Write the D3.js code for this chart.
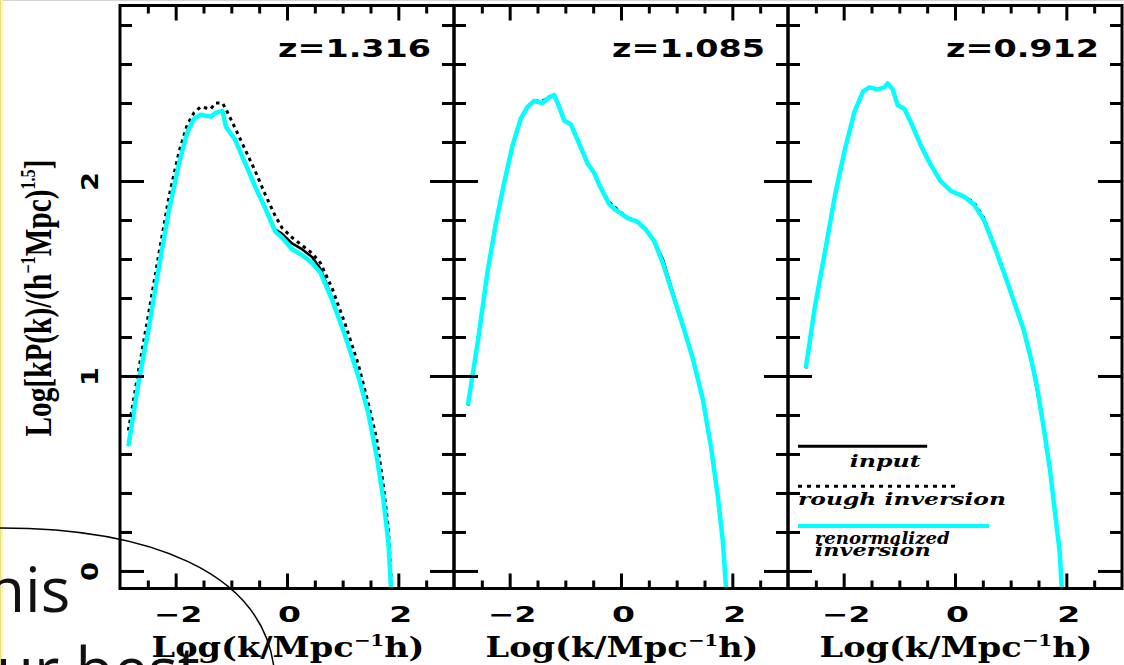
<!DOCTYPE html>
<html><head><meta charset="utf-8">
<script src="https://cdn.jsdelivr.net/npm/d3@7/dist/d3.min.js"></script>
<style>body{margin:0;background:#fff;} svg{display:block;background:#fff}</style>
</head><body>
<svg id="c" width="1124" height="665"></svg>
<script>
// ---------- data ----------
const redshifts = ["z=1.316", "z=1.085", "z=0.912"];

// panel 1 (z=1.316)
const k1 = [-2.85,-2.66,-2.48,-2.30,-2.12,-1.94,-1.79,-1.67,-1.55,-1.37,-1.28,-1.16,-1.10,-0.93,-0.75,-0.57,-0.39,-0.21,-0.09,0.09,0.27,0.45,0.60,0.81,1.04,1.28,1.46,1.61,1.73,1.82,1.87];
const renorm1 = [0.64,0.98,1.25,1.56,1.85,2.09,2.25,2.32,2.34,2.33,2.35,2.36,2.28,2.21,2.09,1.97,1.86,1.74,1.71,1.65,1.62,1.58,1.53,1.39,1.21,1.00,0.81,0.59,0.37,0.15,-0.09];
const input1  = [0.64,0.98,1.25,1.56,1.85,2.09,2.25,2.32,2.34,2.33,2.35,2.36,2.28,2.21,2.09,1.97,1.86,1.75,1.73,1.68,1.65,1.61,1.55,1.40,1.21,1.00,0.81,0.59,0.37,0.15,-0.09];
const rough1  = [0.72,1.04,1.33,1.63,1.92,2.15,2.29,2.35,2.38,2.37,2.40,2.40,2.37,2.27,2.16,2.05,1.93,1.82,1.76,1.71,1.67,1.63,1.58,1.45,1.27,1.06,0.86,0.68,0.44,0.22,-0.03];

// panel 2 (z=1.085)
const k2 = [-2.75,-2.57,-2.40,-2.25,-2.10,-1.95,-1.80,-1.68,-1.56,-1.41,-1.29,-1.20,-1.11,-1.02,-0.90,-0.75,-0.60,-0.48,-0.39,-0.21,-0.09,0.12,0.30,0.45,0.60,0.75,0.93,1.11,1.29,1.47,1.62,1.74,1.83,1.89];
const renorm2 = [0.85,1.18,1.53,1.78,1.99,2.18,2.32,2.38,2.41,2.40,2.43,2.44,2.38,2.31,2.29,2.19,2.09,2.04,1.98,1.88,1.85,1.81,1.79,1.75,1.69,1.58,1.42,1.26,1.09,0.88,0.63,0.38,0.15,-0.10];
const input2  = [0.85,1.18,1.53,1.78,1.99,2.18,2.32,2.38,2.41,2.40,2.43,2.44,2.38,2.31,2.29,2.19,2.09,2.04,1.98,1.88,1.85,1.81,1.79,1.75,1.69,1.60,1.43,1.26,1.09,0.88,0.63,0.38,0.15,-0.10];
const rough2  = [0.85,1.18,1.53,1.78,1.99,2.18,2.32,2.38,2.41,2.41,2.43,2.44,2.38,2.31,2.29,2.19,2.09,2.04,1.98,1.89,1.86,1.81,1.79,1.75,1.69,1.58,1.42,1.26,1.09,0.88,0.63,0.38,0.15,-0.10];

// panel 3 (z=0.912)
const k3 = [-2.68,-2.52,-2.34,-2.16,-1.98,-1.80,-1.65,-1.54,-1.39,-1.27,-1.21,-1.12,-1.03,-0.91,-0.79,-0.61,-0.43,-0.26,-0.08,0.16,0.34,0.52,0.70,0.88,1.05,1.23,1.38,1.47,1.59,1.71,1.80,1.88,1.92];
const renorm3 = [1.04,1.35,1.63,1.92,2.16,2.36,2.46,2.48,2.47,2.48,2.50,2.47,2.39,2.37,2.30,2.18,2.08,2.00,1.95,1.92,1.88,1.80,1.67,1.53,1.39,1.24,1.07,0.95,0.74,0.51,0.29,0.10,-0.10];
const input3  = [1.04,1.35,1.63,1.92,2.16,2.36,2.46,2.48,2.47,2.48,2.50,2.47,2.39,2.37,2.30,2.18,2.08,2.00,1.95,1.92,1.88,1.80,1.67,1.53,1.39,1.24,1.08,0.93,0.74,0.51,0.29,0.10,-0.10];
const rough3  = [1.04,1.35,1.63,1.92,2.16,2.36,2.46,2.48,2.47,2.48,2.50,2.47,2.39,2.37,2.30,2.18,2.08,2.00,1.95,1.92,1.89,1.81,1.67,1.53,1.39,1.24,1.07,0.95,0.74,0.51,0.29,0.10,-0.10];

// ticks
const xMajorTicks = [-2, 0, 2];
const xMinorTicks = [-2.5, -1.5, -1, -0.5, 0.5, 1, 1.5, 2.5];
const yMajorTicks = [0, 1, 2];
const yMinorTicks = [0.2,0.4,0.6,0.8,1.2,1.4,1.6,1.8,2.2,2.4,2.6,2.8];

const legendLabels = ["input", "rough inversion", "renormalized", "inversion"];
const overlayWords = ["his", "ur best"];

// ---------- drawing ----------
const panels = [
  {z: redshifts[0], k: k1, renorm: renorm1, input: input1, rough: rough1},
  {z: redshifts[1], k: k2, renorm: renorm2, input: input2, rough: rough2},
  {z: redshifts[2], k: k3, renorm: renorm3, input: input3, rough: rough3}
];

const svg = d3.select("#c");
const PW = 334, TOP = 5.5, BOT = 588.5, L0 = 120;
const y = d3.scaleLinear().domain([-0.09, 2.9]).range([BOT, TOP]);

svg.append("line").attr("x1",0).attr("x2",1124).attr("y1",0.5).attr("y2",0.5)
  .attr("stroke","#d4d4d4").attr("stroke-width",1);

const defs = svg.append("defs");

function styleAxis(a){
  a.select(".domain").remove();
  a.selectAll("line").attr("stroke","#000").attr("stroke-width",3);
  return a;
}

panels.forEach((p, i) => {
  const L = L0 + i * PW;
  const x = d3.scaleLinear().domain([-3, 3]).range([L, L + PW]);
  const g = svg.append("g");

  defs.append("clipPath").attr("id", "clip" + i).append("rect")
    .attr("x", L).attr("y", TOP).attr("width", PW).attr("height", BOT - TOP);
  const cg = g.append("g").attr("clip-path", `url(#clip${i})`);
  const line = ys => d3.line().x((d, j) => x(p.k[j])).y(d => y(d))(ys);

  cg.append("path").attr("d", line(p.rough)).attr("fill","none").attr("stroke","#000")
    .attr("stroke-width",3).attr("stroke-dasharray","3.5,4");
  cg.append("path").attr("d", line(p.input)).attr("fill","none").attr("stroke","#000")
    .attr("stroke-width",2.6).attr("stroke-linejoin","round");
  cg.append("path").attr("d", line(p.renorm)).attr("fill","none").attr("stroke","#00ffff")
    .attr("stroke-width",4.5).attr("stroke-linejoin","round");

  // ticks on all four sides
  styleAxis(g.append("g").attr("transform",`translate(0,${BOT})`)
    .call(d3.axisBottom(x).tickValues(xMajorTicks).tickSize(-15).tickFormat("")));
  styleAxis(g.append("g").attr("transform",`translate(0,${BOT})`)
    .call(d3.axisBottom(x).tickValues(xMinorTicks).tickSize(-8).tickFormat("")));
  styleAxis(g.append("g").attr("transform",`translate(0,${TOP})`)
    .call(d3.axisTop(x).tickValues(xMajorTicks).tickSize(-15).tickFormat("")));
  styleAxis(g.append("g").attr("transform",`translate(0,${TOP})`)
    .call(d3.axisTop(x).tickValues(xMinorTicks).tickSize(-8).tickFormat("")));
  styleAxis(g.append("g").attr("transform",`translate(${L},0)`)
    .call(d3.axisLeft(y).tickValues(yMajorTicks).tickSize(-24).tickFormat("")));
  styleAxis(g.append("g").attr("transform",`translate(${L},0)`)
    .call(d3.axisLeft(y).tickValues(yMinorTicks).tickSize(-12).tickFormat("")));
  styleAxis(g.append("g").attr("transform",`translate(${L+PW},0)`)
    .call(d3.axisRight(y).tickValues(yMajorTicks).tickSize(-24).tickFormat("")));
  styleAxis(g.append("g").attr("transform",`translate(${L+PW},0)`)
    .call(d3.axisRight(y).tickValues(yMinorTicks).tickSize(-12).tickFormat("")));

  g.append("rect").attr("x",L).attr("y",TOP).attr("width",PW).attr("height",BOT-TOP)
    .attr("fill","none").attr("stroke","#000").attr("stroke-width",3);

  // x tick labels
  const xl = g.append("g").attr("transform",`translate(0,${BOT})`)
    .call(d3.axisBottom(x).tickValues(xMajorTicks).tickSize(0).tickPadding(0)
      .tickFormat(d => d < 0 ? "\u2212" + (-d) : String(d)));
  xl.select(".domain").remove();
  xl.selectAll("text")
    .attr("x", 2).attr("y", 33).attr("dy", null)
    .attr("font-family","DejaVu Sans").attr("font-weight","bold").attr("font-size",21)
    .attr("fill","#000")
    .attr("textLength", d => d < 0 ? 48 : 23).attr("lengthAdjust","spacingAndGlyphs");

  // x axis title
  const xt = g.append("text").attr("x", L + PW/2 + 1).attr("y", 657)
    .attr("text-anchor","middle").attr("font-family","DejaVu Serif").attr("font-weight","bold")
    .attr("font-size",27).attr("fill","#000")
    .attr("textLength",273).attr("lengthAdjust","spacingAndGlyphs");
  xt.append("tspan").text("Log(k/Mpc");
  xt.append("tspan").attr("font-size",16).attr("dy",-11).text("\u22121");
  xt.append("tspan").attr("dy",11).text("h)");

  // redshift label
  g.append("text").attr("x", L + 311).attr("y", 57).attr("text-anchor","end")
    .attr("font-family","DejaVu Sans").attr("font-weight","bold").attr("font-size",25)
    .attr("fill","#000").attr("textLength",153).attr("lengthAdjust","spacingAndGlyphs")
    .text(p.z);

  if (i === 0) {
    const yl = g.append("g").attr("transform",`translate(${L},0)`)
      .call(d3.axisLeft(y).tickValues(yMajorTicks).tickSize(0).tickFormat(d3.format("d")));
    yl.select(".domain").remove();
    yl.selectAll("text")
      .attr("x", 0).attr("dy", null).attr("text-anchor","middle")
      .attr("transform","translate(-22,0) rotate(-90)")
      .attr("font-family","DejaVu Sans").attr("font-weight","bold").attr("font-size",23)
      .attr("fill","#000").attr("textLength",19).attr("lengthAdjust","spacingAndGlyphs");

    const yt = g.append("text").attr("transform","translate(51,298) rotate(-90)")
      .attr("text-anchor","middle").attr("font-family","Liberation Serif").attr("font-weight","bold")
      .attr("font-size",38).attr("fill","#000")
      .attr("textLength",277).attr("lengthAdjust","spacingAndGlyphs");
    yt.append("tspan").text("Log[kP(k)/(h");
    yt.append("tspan").attr("font-size",21).attr("dy",-16).text("\u22121");
    yt.append("tspan").attr("dy",16).text("Mpc)");
    yt.append("tspan").attr("font-size",21).attr("dy",-16).text("1.5");
    yt.append("tspan").attr("dy",16).text("]");
  }

  if (i === 2) {
    const lg = g.append("g");
    lg.append("line").attr("x1",x(-2.82)).attr("x2",x(-0.5)).attr("y1",y(0.64)).attr("y2",y(0.64))
      .attr("stroke","#000").attr("stroke-width",3);
    lg.append("line").attr("x1",x(-2.82)).attr("x2",x(0.05)).attr("y1",y(0.435)).attr("y2",y(0.435))
      .attr("stroke","#000").attr("stroke-width",3).attr("stroke-dasharray","4,5");
    lg.append("line").attr("x1",x(-2.82)).attr("x2",x(0.61)).attr("y1",y(0.23)).attr("y2",y(0.23))
      .attr("stroke","#00ffff").attr("stroke-width",4);
    const lt = (t, x0, yy, len) => lg.append("text").attr("x", x0).attr("y", yy)
      .attr("font-family","DejaVu Serif").attr("font-style","italic").attr("font-weight","bold")
      .attr("font-size",17).attr("fill","#000")
      .attr("textLength",len).attr("lengthAdjust","spacingAndGlyphs").text(t);
    lt(legendLabels[0], x(-1.89), 467, 71);
    lt(legendLabels[1], x(-2.82), 505, 208);
    lt(legendLabels[2], x(-2.52), 544, 135);
    lt(legendLabels[3], x(-2.52), 556, 116);
  }
});

// ---------- slide overlay ----------
const ov = svg.append("g");
ov.append("rect").attr("x",0).attr("y",0).attr("width",3).attr("height",665).attr("fill","#fbf4b8");
ov.append("line").attr("x1",0.5).attr("x2",0.5).attr("y1",0).attr("y2",665).attr("stroke","#e9df86").attr("stroke-width",1);
ov.append("path").attr("d","M-5,528 C150,527 262,572 274,668")
  .attr("fill","none").attr("stroke","#000").attr("stroke-width",1.5);
ov.append("text").attr("x",-13).attr("y",612).attr("font-family","Open Sans")
  .attr("font-size",62).attr("fill","#111").text(overlayWords[0]);
ov.append("text").attr("x",-4).attr("y",692).attr("font-family","Open Sans")
  .attr("font-size",62).attr("fill","#111").text(overlayWords[1]);
</script>
</body></html>
